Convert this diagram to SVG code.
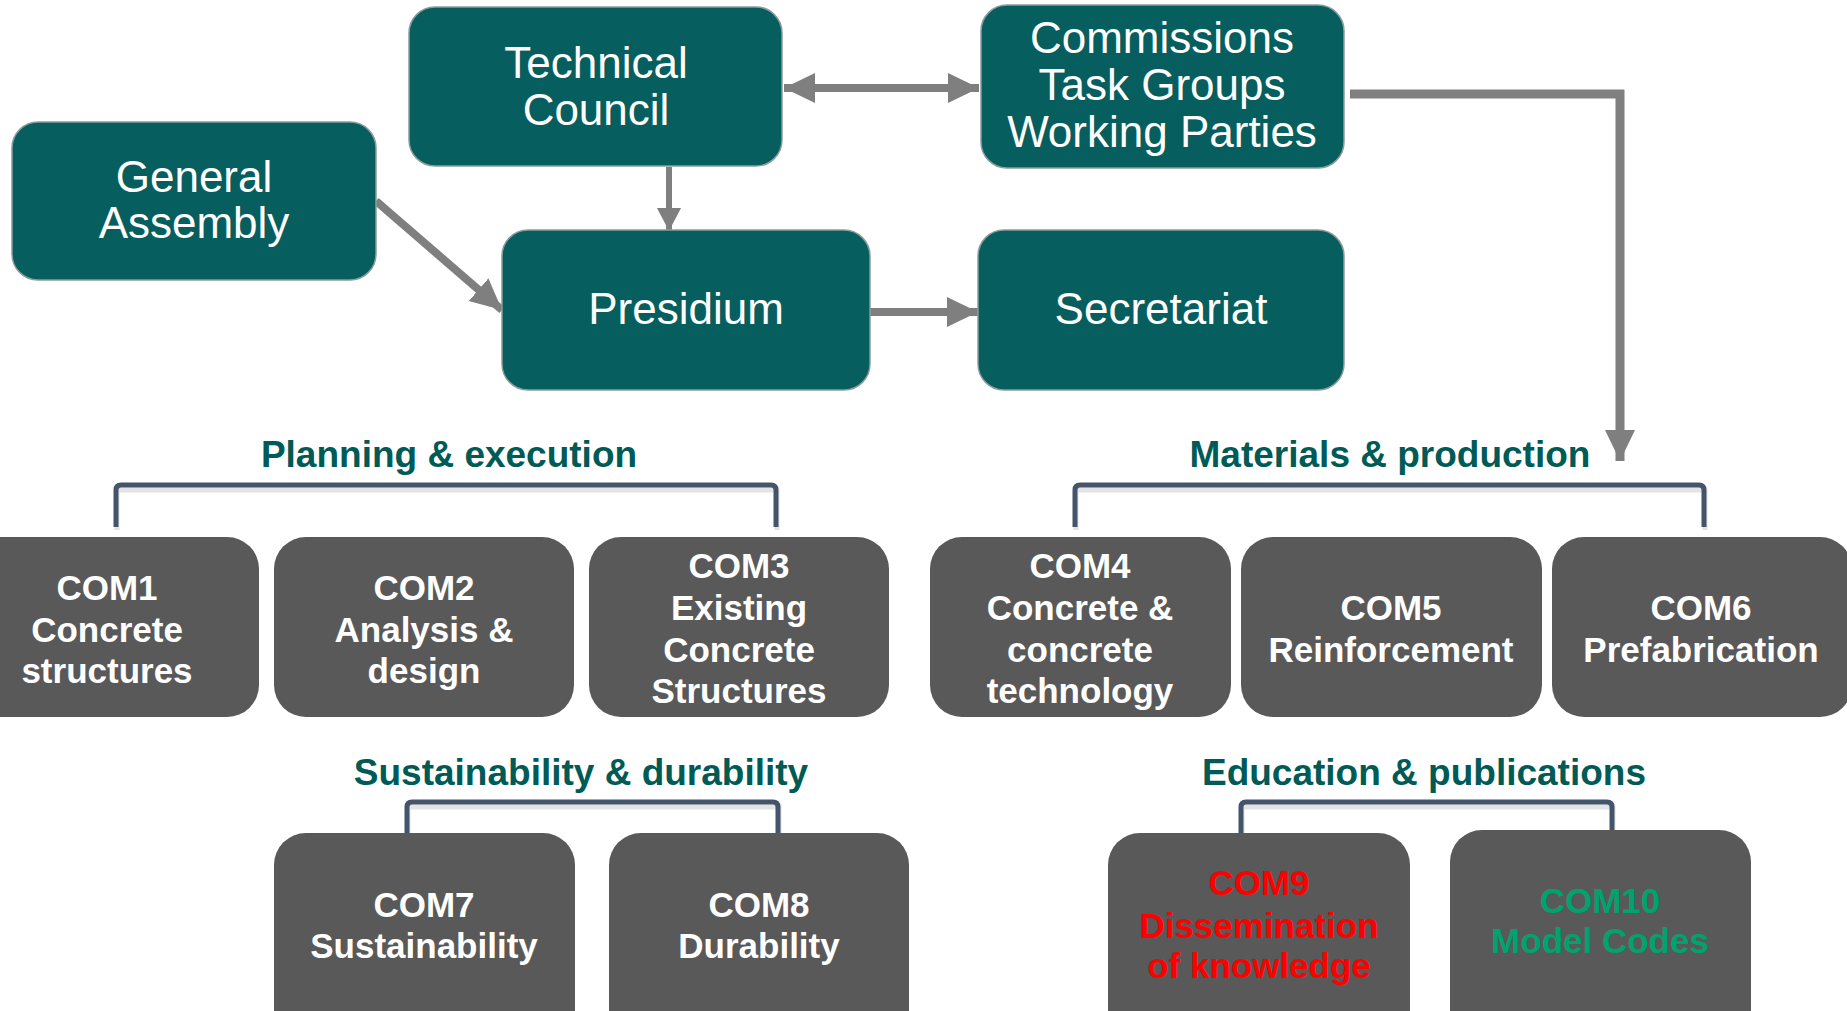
<svg xmlns="http://www.w3.org/2000/svg" width="1847" height="1011" viewBox="0 0 1847 1011">
<style>
.top rect{fill:#075e5e;stroke:#8c9c9c;stroke-width:1.5}
.top text{fill:#ffffff;font-family:"Liberation Sans",Arial,sans-serif;font-size:44px;text-anchor:middle}
.com rect{fill:#595959}
.com text{fill:#ffffff;font-family:"Liberation Sans",Arial,sans-serif;font-size:35px;font-weight:bold;text-anchor:middle}
.lbl{fill:#005a55;font-family:"Liberation Sans",Arial,sans-serif;font-size:37px;font-weight:bold;text-anchor:middle}
.br{fill:none;stroke:#44546a;stroke-width:5;stroke-linejoin:round}
.brs{fill:none;stroke:#d0d0d0;stroke-width:5;opacity:0.6}
.ar{fill:none;stroke:#7f7f7f}
</style>
<defs>
<marker id="ah" markerUnits="userSpaceOnUse" markerWidth="32" markerHeight="32" refX="31" refY="15" orient="auto-start-reverse" viewBox="0 0 32 30">
<path d="M0,0 L31,15 L0,30 z" fill="#7f7f7f"/>
</marker>
<marker id="ahs" markerUnits="userSpaceOnUse" markerWidth="24" markerHeight="24" refX="23" refY="12" orient="auto" viewBox="0 0 24 24">
<path d="M0,0 L23,12 L0,24 z" fill="#7f7f7f"/>
</marker>
</defs>

<g id="connectors">
<line class="ar" x1="784" y1="88" x2="979" y2="88" stroke-width="8" marker-start="url(#ah)" marker-end="url(#ah)"/>
<line class="ar" x1="669" y1="167" x2="669" y2="231" stroke-width="6" marker-end="url(#ahs)"/>
<line class="ar" x1="376" y1="201" x2="502" y2="310" stroke-width="8" marker-end="url(#ah)"/>
<line class="ar" x1="870" y1="312" x2="978" y2="312" stroke-width="8" marker-end="url(#ah)"/>
<path class="ar" d="M1350,94 H1620 V461" stroke-width="9" marker-end="url(#ah)"/>
</g>

<g id="general-assembly" class="top">
<rect x="12" y="122" width="364" height="158" rx="26"/>
<text x="194" y="192">General</text>
<text x="194" y="238">Assembly</text>
</g>
<g id="technical-council" class="top">
<rect x="409" y="7" width="373" height="159" rx="26"/>
<text x="596" y="78">Technical</text>
<text x="596" y="125">Council</text>
</g>
<g id="commissions" class="top">
<rect x="981" y="5" width="363" height="163" rx="26"/>
<text x="1162" y="53">Commissions</text>
<text x="1162" y="100">Task Groups</text>
<text x="1162" y="147">Working Parties</text>
</g>
<g id="presidium" class="top">
<rect x="502" y="230" width="368" height="160" rx="26"/>
<text x="686" y="324">Presidium</text>
</g>
<g id="secretariat" class="top">
<rect x="978" y="230" width="366" height="160" rx="26"/>
<text x="1161" y="324">Secretariat</text>
</g>

<g id="planning-execution">
<text class="lbl" x="449" y="467">Planning &amp; execution</text>
<path class="brs" d="M117,530 V490 H777 V530"/>
<path class="br" d="M116,527 V490 Q116,485 121,485 H771 Q776,485 776,490 V527"/>
</g>
<g id="materials-production">
<text class="lbl" x="1390" y="467">Materials &amp; production</text>
<path class="brs" d="M1076,530 V490 H1705 V530"/>
<path class="br" d="M1075,527 V490 Q1075,485 1080,485 H1699 Q1704,485 1704,490 V527"/>
</g>
<g id="sustainability-durability">
<text class="lbl" x="581" y="785">Sustainability &amp; durability</text>
<path class="brs" d="M408,836 V807 H779 V836"/>
<path class="br" d="M407,833 V807 Q407,802 412,802 H773 Q778,802 778,807 V833"/>
</g>
<g id="education-publications">
<text class="lbl" x="1424" y="785">Education &amp; publications</text>
<path class="brs" d="M1242,836 V807 H1613 V836"/>
<path class="br" d="M1241,833 V807 Q1241,802 1246,802 H1607 Q1612,802 1612,807 V833"/>
</g>

<g id="com1" class="com">
<rect x="-43" y="537" width="302" height="180" rx="32"/>
<text x="107" y="600">COM1</text>
<text x="107" y="642">Concrete</text>
<text x="107" y="683">structures</text>
</g>
<g id="com2" class="com">
<rect x="274" y="537" width="300" height="180" rx="32"/>
<text x="424" y="600">COM2</text>
<text x="424" y="642">Analysis &amp;</text>
<text x="424" y="683">design</text>
</g>
<g id="com3" class="com">
<rect x="589" y="537" width="300" height="180" rx="32"/>
<text x="739" y="578">COM3</text>
<text x="739" y="620">Existing</text>
<text x="739" y="662">Concrete</text>
<text x="739" y="703">Structures</text>
</g>
<g id="com4" class="com">
<rect x="930" y="537" width="301" height="180" rx="32"/>
<text x="1080" y="578">COM4</text>
<text x="1080" y="620">Concrete &amp;</text>
<text x="1080" y="662">concrete</text>
<text x="1080" y="703">technology</text>
</g>
<g id="com5" class="com">
<rect x="1241" y="537" width="301" height="180" rx="32"/>
<text x="1391" y="620">COM5</text>
<text x="1391" y="662">Reinforcement</text>
</g>
<g id="com6" class="com">
<rect x="1552" y="537" width="300" height="180" rx="32"/>
<text x="1701" y="620">COM6</text>
<text x="1701" y="662">Prefabrication</text>
</g>
<g id="com7" class="com">
<rect x="274" y="833" width="301" height="210" rx="32"/>
<text x="424" y="917">COM7</text>
<text x="424" y="958">Sustainability</text>
</g>
<g id="com8" class="com">
<rect x="609" y="833" width="300" height="210" rx="32"/>
<text x="759" y="917">COM8</text>
<text x="759" y="958">Durability</text>
</g>
<g id="com9" class="com">
<rect x="1108" y="833" width="302" height="210" rx="32"/>
<text x="1259" y="895" style="fill:#ff0000">COM9</text>
<text x="1259" y="938" style="fill:#ff0000">Dissemination</text>
<text x="1259" y="978" style="fill:#ff0000">of knowledge</text>
</g>
<g id="com10" class="com">
<rect x="1450" y="830" width="301" height="213" rx="32"/>
<text x="1600" y="913" style="fill:#00a26e">COM10</text>
<text x="1600" y="953" style="fill:#00a26e">Model Codes</text>
</g>
</svg>
